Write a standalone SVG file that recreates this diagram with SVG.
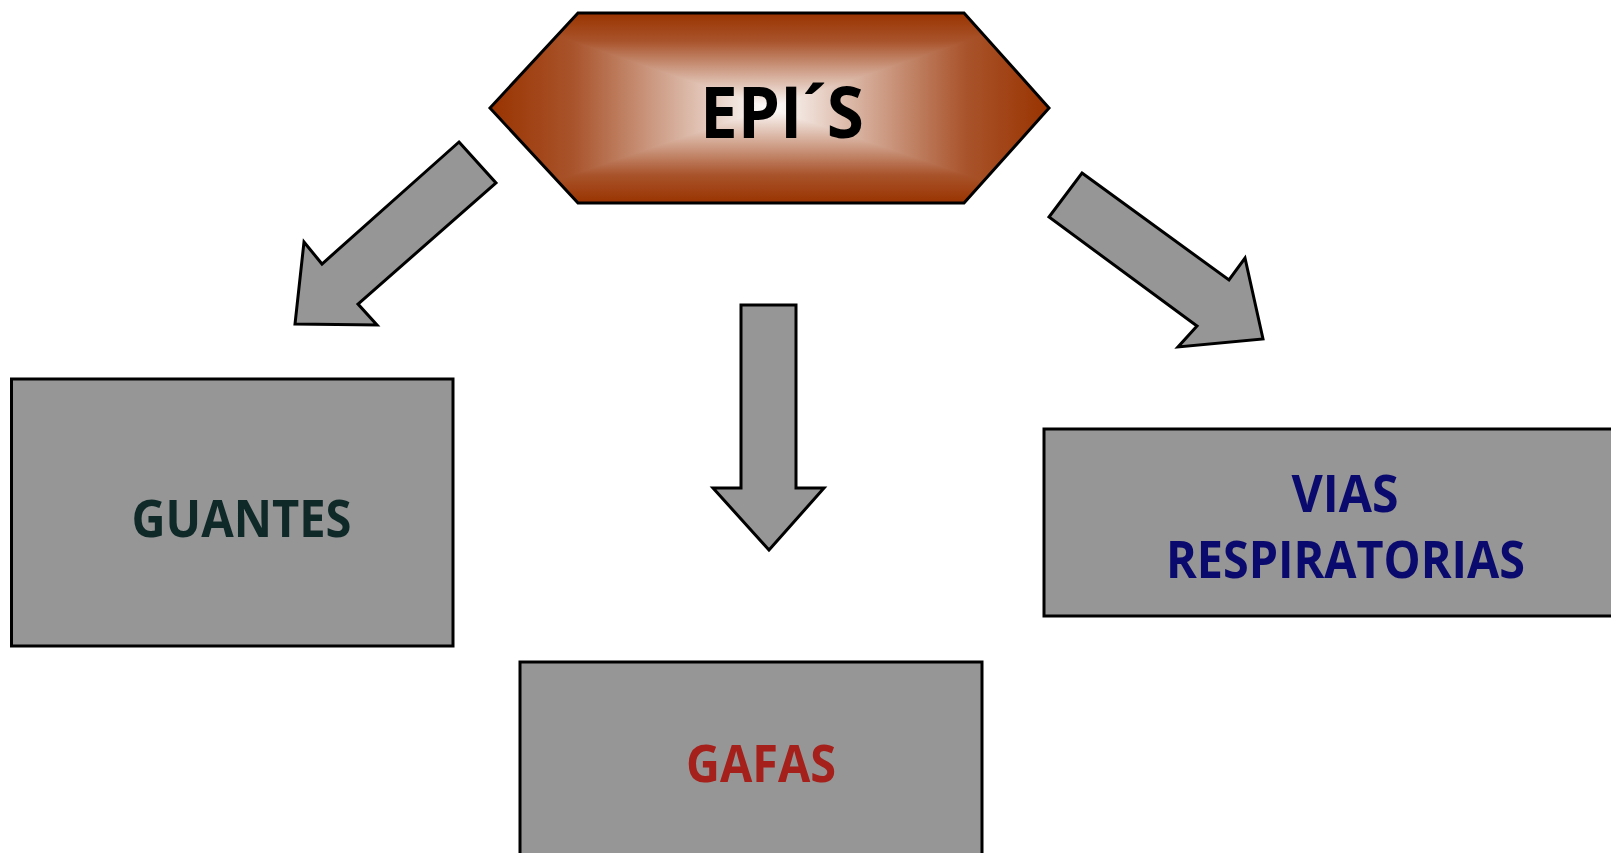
<svg xmlns="http://www.w3.org/2000/svg" width="1611" height="853" viewBox="0 0 1611 853">
<style>
.box{fill:#969696;stroke:#000;stroke-width:3;stroke-linejoin:miter}
.arrow{fill:#969696;stroke:#000;stroke-width:3;stroke-linejoin:miter}
.lbl{font-family:"Open Sans","Liberation Sans",sans-serif;font-weight:bold;font-size:52px}
</style>
<defs>
<clipPath id="hexclip"><polygon points="490,108 578,13 964,13 1049,108 964,203 578,203"/></clipPath>
<linearGradient id="gL" gradientUnits="userSpaceOnUse" x1="490" y1="0" x2="769" y2="0"><stop offset="0" stop-color="#993300"/><stop offset="0.3" stop-color="#a9542c"/><stop offset="1" stop-color="#ffffff"/></linearGradient>
<linearGradient id="gR" gradientUnits="userSpaceOnUse" x1="1049" y1="0" x2="769" y2="0"><stop offset="0" stop-color="#993300"/><stop offset="0.3" stop-color="#a9542c"/><stop offset="1" stop-color="#ffffff"/></linearGradient>
<linearGradient id="gV" gradientUnits="userSpaceOnUse" x1="0" y1="13" x2="0" y2="203"><stop offset="0" stop-color="#993300"/><stop offset="0.15" stop-color="#a9542c"/><stop offset="0.5" stop-color="#ffffff"/><stop offset="0.85" stop-color="#a9542c"/><stop offset="1" stop-color="#993300"/></linearGradient>
</defs>
<rect width="1611" height="853" fill="#ffffff"/>
<g id="epis">
<g clip-path="url(#hexclip)">
<rect x="480" y="5" width="580" height="205" fill="url(#gV)"/>
<polygon points="480,9.6 769,108 480,206.4" fill="url(#gL)"/>
<polygon points="1060,9.2 769,108 1060,206.8" fill="url(#gR)"/>
</g>
<polygon points="490,108 578,13 964,13 1049,108 964,203 578,203" fill="none" stroke="#000" stroke-width="3"/>
<text x="700" y="138" font-family="'Open Sans','Liberation Sans',sans-serif" font-weight="bold" font-size="71" fill="#000" textLength="164" lengthAdjust="spacingAndGlyphs">EPI´S</text>
</g>
<g id="connectors">
<polygon class="arrow" points="459,142 496,183 358,304 377,325 295,324 304,242 322,264"/>
<polygon class="arrow" points="741,305 796,305 796,488 824,488 769,550 713,488 741,488"/>
<polygon class="arrow" points="1082,173 1229,280 1245,258 1263,339 1178,347 1197,326 1049,217"/>
</g>
<g id="guantes">
<rect class="box" x="11.5" y="379" width="441.5" height="267"/>
<text class="lbl" x="131.5" y="537" fill="#0f2828" textLength="220" lengthAdjust="spacingAndGlyphs">GUANTES</text>
</g>
<g id="gafas">
<rect class="box" x="520" y="662" width="462" height="200"/>
<text class="lbl" x="686" y="782" fill="#a5201a" textLength="150" lengthAdjust="spacingAndGlyphs">GAFAS</text>
</g>
<g id="vias">
<rect class="box" x="1044" y="429" width="580" height="187"/>
<text class="lbl" x="1291.5" y="512" fill="#0a0a6e" textLength="107" lengthAdjust="spacingAndGlyphs">VIAS</text>
<text class="lbl" x="1166" y="578" fill="#0a0a6e" textLength="359" lengthAdjust="spacingAndGlyphs">RESPIRATORIAS</text>
</g>
</svg>
